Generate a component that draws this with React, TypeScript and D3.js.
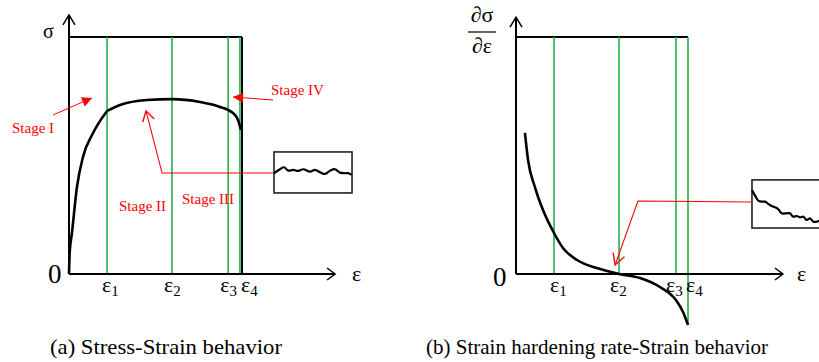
import React from "react";
import * as d3 from "d3";

// stress-strain curve, normalised strain / stress
const stageIStrain = [0, 0.004, 0.017, 0.046, 0.081, 0.139, 0.22];
const stageIStress = [0, 0.09, 0.173, 0.367, 0.494, 0.595, 0.688];
const plateauStrain = [0.22, 0.295, 0.451, 0.595, 0.757, 0.873, 0.948, 0.977, 0.994];
const plateauStress = [0.688, 0.713, 0.734, 0.738, 0.726, 0.705, 0.679, 0.65, 0.608];

// strain hardening rate curve
const rateStrain = [0.052, 0.07, 0.11, 0.157, 0.221, 0.273, 0.355, 0.47, 0.599, 0.721, 0.837, 0.93, 0.971, 1.0];
const rateValue = [0.595, 0.481, 0.367, 0.27, 0.173, 0.11, 0.059, 0.025, 0, -0.017, -0.055, -0.11, -0.16, -0.215];

// critical strains
const epsLeft = [0.22, 0.595, 0.92, 0.988];
const epsRight = [0.221, 0.599, 0.93, 1.0];
const epsSubs = ["1", "2", "3", "4"];

// zoomed-in insets (local x 0..1, local y 0..1)
const insetAX = [0, 0.077, 0.128, 0.183, 0.247, 0.311, 0.376, 0.462, 0.526, 0.59, 0.654, 0.718, 0.782, 0.846, 0.91, 0.953, 0.996];
const insetAY = [0.48, 0.578, 0.627, 0.544, 0.561, 0.537, 0.578, 0.52, 0.561, 0.505, 0.463, 0.544, 0.578, 0.495, 0.48, 0.48, 0.439];
const insetBX = [0, 0.042, 0.081, 0.124, 0.167, 0.209, 0.252, 0.295, 0.337, 0.38, 0.444, 0.487, 0.529, 0.572, 0.615, 0.658, 0.7, 0.744, 0.786, 0.829, 0.859];
const insetBY = [0.792, 0.667, 0.569, 0.548, 0.548, 0.5, 0.458, 0.431, 0.39, 0.306, 0.306, 0.306, 0.235, 0.25, 0.223, 0.235, 0.167, 0.202, 0.131, 0.131, 0.152];

const serif = "'Liberation Serif', 'Times New Roman', serif";
const GREEN = "#22b14c";
const RED = "#ff0000";

type P = [number, number];

function zip(xs: number[], ys: number[]): P[] {
  return xs.map((x, i) => [x, ys[i]] as P);
}

// arrowhead wings for a tip approached from `from`
function wings(tip: P, from: P, len: number, half: number): [P, P] {
  const dx = tip[0] - from[0];
  const dy = tip[1] - from[1];
  const d = Math.hypot(dx, dy);
  const ux = dx / d, uy = dy / d;
  const bx = tip[0] - ux * len, by = tip[1] - uy * len;
  return [
    [bx - uy * half, by + ux * half],
    [bx + uy * half, by - ux * half],
  ];
}

function OpenHead({ tip, from, len, half, color, sw }: any) {
  const [a, b] = wings(tip, from, len, half);
  return (
    <polyline
      points={`${a[0]},${a[1]} ${tip[0]},${tip[1]} ${b[0]},${b[1]}`}
      fill="none"
      stroke={color}
      strokeWidth={sw}
      strokeLinejoin="miter"
    />
  );
}

function FilledHead({ tip, from, len, half, color }: any) {
  const [a, b] = wings(tip, from, len, half);
  return <polygon points={`${a[0]},${a[1]} ${tip[0]},${tip[1]} ${b[0]},${b[1]}`} fill={color} />;
}

function EpsLabel({ x, y, sub }: { x: number; y: number; sub: string }) {
  return (
    <text x={x - 5} y={y} fontFamily={serif} fontSize={22}>
      ε<tspan fontSize={15} dy={4}>{sub}</tspan>
    </text>
  );
}

export default function App() {
  // panel (a)
  const xL = d3.scaleLinear().domain([0, 1]).range([69, 242]);
  const yL = d3.scaleLinear().domain([0, 1]).range([274, 37]);
  // panel (b)
  const xR = d3.scaleLinear().domain([0, 1]).range([516, 688]);
  const yR = d3.scaleLinear().domain([0, 1]).range([274, 37]);

  const lineL = d3
    .line<P>()
    .x((d) => xL(d[0]))
    .y((d) => yL(d[1]))
    .curve(d3.curveMonotoneX);
  const lineR = d3
    .line<P>()
    .x((d) => xR(d[0]))
    .y((d) => yR(d[1]))
    .curve(d3.curveMonotoneX);

  // insets
  const inAx = d3.scaleLinear().domain([0, 1]).range([xL(1.185), xL(1.636)]);
  const inAy = d3.scaleLinear().domain([0, 1]).range([yL(0.342), yL(0.515)]);
  const inBx = d3.scaleLinear().domain([0, 1]).range([xR(1.372), xR(1.826)]);
  const inBy = d3.scaleLinear().domain([0, 1]).range([yR(0.194), yR(0.397)]);
  const waveA = d3
    .line<P>()
    .x((d) => inAx(d[0]))
    .y((d) => inAy(d[1]))
    .curve(d3.curveCatmullRom);
  const waveB = d3
    .line<P>()
    .x((d) => inBx(d[0]))
    .y((d) => inBy(d[1]))
    .curve(d3.curveCatmullRom);

  const pL = (x: number, y: number): P => [xL(x), yL(y)];
  const pR = (x: number, y: number): P => [xR(x), yR(y)];

  // axes extents
  const axL0 = pL(0, 0), axLx = pL(1.538, 0), axLy = pL(0, 1.093);
  const axR0 = pR(0, 0), axRx = pR(1.552, 0), axRy = pR(0, 1.084);

  // annotation paths
  const s1From = pL(-0.092, 0.671), s1Tip = pL(0.133, 0.743);
  const s4From = pL(1.179, 0.734), s4Tip = pL(0.948, 0.747);
  const s2Path = [pL(1.185, 0.426), pL(0.538, 0.426), pL(0.445, 0.688)];
  const bPath = [pR(1.372, 0.304), pR(0.709, 0.308), pR(0.576, 0.038)];

  const tickDxL = [0, -3, -3, 6];
  const tickDxR = [1, -4, -5, 3];

  return (
    <svg width={819} height={362} style={{ position: "absolute", left: 0, top: 0, background: "#fff" }}>
      {/* ---------- panel (a) ---------- */}
      <g>
        <line x1={xL(0)} x2={xL(1)} y1={yL(1)} y2={yL(1)} stroke="#000" strokeWidth={2} />
        <line x1={xL(1)} x2={xL(1)} y1={yL(1)} y2={yL(0)} stroke="#000" strokeWidth={2} />
        {epsLeft.map((e, i) => (
          <line key={i} x1={xL(e)} x2={xL(e)} y1={yL(1)} y2={yL(0)} stroke={GREEN} strokeWidth={1.6} />
        ))}
        <line x1={axL0[0]} y1={axL0[1]} x2={axLx[0]} y2={axLx[1]} stroke="#000" strokeWidth={2} />
        <line x1={axL0[0]} y1={axL0[1]} x2={axLy[0]} y2={axLy[1]} stroke="#000" strokeWidth={2} />
        <OpenHead tip={axLx} from={axL0} len={8} half={6} color="#000" sw={1.5} />
        <OpenHead tip={axLy} from={axL0} len={10} half={6} color="#000" sw={1.5} />

        <path d={lineL(zip(stageIStrain, stageIStress)) || ""} fill="none" stroke="#000" strokeWidth={2.6} />
        <path d={lineL(zip(plateauStrain, plateauStress)) || ""} fill="none" stroke="#000" strokeWidth={2.6} />

        {/* inset */}
        <rect x={inAx(0)} y={inAy(1)} width={inAx(1) - inAx(0)} height={inAy(0) - inAy(1)} fill="#fff" stroke="#222" strokeWidth={1.6} />
        <path d={waveA(zip(insetAX, insetAY)) || ""} fill="none" stroke="#000" strokeWidth={2.2} />

        {/* annotations */}
        <line x1={s1From[0]} y1={s1From[1]} x2={s1Tip[0]} y2={s1Tip[1]} stroke={RED} strokeWidth={1} />
        <FilledHead tip={s1Tip} from={s1From} len={10} half={5} color={RED} />
        <line x1={s4From[0]} y1={s4From[1]} x2={s4Tip[0]} y2={s4Tip[1]} stroke={RED} strokeWidth={1} />
        <FilledHead tip={s4Tip} from={s4From} len={10} half={5} color={RED} />
        <polyline points={s2Path.map((p) => p.join(",")).join(" ")} fill="none" stroke={RED} strokeWidth={1.1} />
        <OpenHead tip={s2Path[2]} from={s2Path[1]} len={10} half={6} color={RED} sw={1.4} />

        <text x={12} y={133} fontFamily={serif} fontSize={15} fill={RED}>Stage I</text>
        <text x={271} y={95} fontFamily={serif} fontSize={15} fill={RED}>Stage IV</text>
        <text x={119} y={211} fontFamily={serif} fontSize={15} fill={RED}>Stage II</text>
        <text x={182} y={204} fontFamily={serif} fontSize={15} fill={RED}>Stage III</text>

        {/* axis labels */}
        <text x={43} y={38} fontFamily={serif} fontSize={20}>σ</text>
        <text x={48} y={283} fontFamily={serif} fontSize={27}>0</text>
        <text x={352} y={281} fontFamily={serif} fontSize={22}>ε</text>
        {epsLeft.map((e, i) => (
          <EpsLabel key={i} x={xL(e) + tickDxL[i]} y={292} sub={epsSubs[i]} />
        ))}
        <text x={50} y={354} fontFamily={serif} fontSize={22} textLength={232} lengthAdjust="spacingAndGlyphs">
          (a) Stress-Strain behavior
        </text>
      </g>

      {/* ---------- panel (b) ---------- */}
      <g>
        <line x1={xR(0)} x2={xR(1)} y1={yR(1)} y2={yR(1)} stroke="#000" strokeWidth={2} />
        {epsRight.map((e, i) => (
          <line key={i} x1={xR(e)} x2={xR(e)} y1={yR(1)} y2={i === 3 ? yR(-0.215) : yR(0)} stroke={GREEN} strokeWidth={1.6} />
        ))}
        <line x1={axR0[0]} y1={axR0[1]} x2={axRx[0]} y2={axRx[1]} stroke="#000" strokeWidth={2} />
        <line x1={axR0[0]} y1={axR0[1]} x2={axRy[0]} y2={axRy[1]} stroke="#000" strokeWidth={2} />
        <OpenHead tip={axRx} from={axR0} len={8} half={6} color="#000" sw={1.5} />
        <OpenHead tip={axRy} from={axR0} len={10} half={6} color="#000" sw={1.5} />

        <path d={lineR(zip(rateStrain, rateValue)) || ""} fill="none" stroke="#000" strokeWidth={2.6} />

        <rect x={inBx(0)} y={inBy(1)} width={inBx(1) - inBx(0)} height={inBy(0) - inBy(1)} fill="#fff" stroke="#222" strokeWidth={1.6} />
        <path d={waveB(zip(insetBX, insetBY)) || ""} fill="none" stroke="#000" strokeWidth={2.2} />

        <polyline points={bPath.map((p) => p.join(",")).join(" ")} fill="none" stroke={RED} strokeWidth={1.1} />
        <OpenHead tip={bPath[2]} from={bPath[1]} len={11} half={6} color={RED} sw={1.4} />

        {/* y label as fraction */}
        <text x={482} y={22} textAnchor="middle" fontFamily={serif} fontSize={22}>∂σ</text>
        <line x1={468} x2={496} y1={32} y2={32} stroke="#000" strokeWidth={1.2} />
        <text x={482} y={53} textAnchor="middle" fontFamily={serif} fontSize={22}>∂ε</text>

        <text x={493} y={286} fontFamily={serif} fontSize={27}>0</text>
        <text x={797} y={281} fontFamily={serif} fontSize={22}>ε</text>
        {epsRight.map((e, i) => (
          <EpsLabel key={i} x={xR(e) + tickDxR[i]} y={292} sub={epsSubs[i]} />
        ))}
        <text x={426} y={354} fontFamily={serif} fontSize={22} textLength={342} lengthAdjust="spacingAndGlyphs">
          (b) Strain hardening rate-Strain behavior
        </text>
      </g>
    </svg>
  );
}
